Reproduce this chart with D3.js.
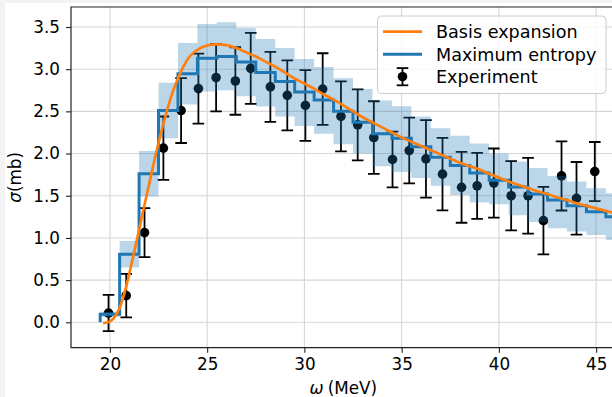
<!DOCTYPE html>
<html>
<head>
<meta charset="utf-8">
<script src="https://cdn.jsdelivr.net/npm/d3@7"></script>
<style>
  body { margin: 0; background: #f3f3f3; }
  svg { display: block; font-family: "DejaVu Sans", sans-serif; }
</style>
</head>
<body>
<div id="chart"></div>
<script>
// Experimental points (omega in MeV, sigma in mb, symmetric error)
const expX = [19.93, 20.84, 21.78, 22.75, 23.66, 24.55, 25.46, 26.45, 27.24, 28.25, 29.12, 30.05, 30.94, 31.88, 32.74,
              33.57, 34.53, 35.39, 36.25, 37.10, 38.08, 38.88, 39.74, 40.63, 41.50, 42.29, 43.22, 43.99, 44.93];
const expY = [0.11, 0.316, 1.063, 2.064, 2.51, 2.77, 2.90, 2.86, 3.01, 2.79, 2.69, 2.57, 2.764, 2.44, 2.34,
              2.19, 1.93, 2.036, 1.937, 1.756, 1.60, 1.617, 1.65, 1.50, 1.50, 1.205, 1.735, 1.47, 1.787];
const expErr = [0.215, 0.257, 0.29, 0.375, 0.385, 0.415, 0.40, 0.40, 0.42, 0.415, 0.415, 0.42, 0.425, 0.415, 0.42,
                0.43, 0.33, 0.39, 0.46, 0.43, 0.42, 0.39, 0.41, 0.41, 0.45, 0.40, 0.41, 0.43, 0.35];

// Maximum entropy histogram: 1 MeV bins centred on integers
const binCenters = d3.range(20, 47);
const meVals = [0.095, 0.807, 1.76, 2.51, 2.945, 3.13, 3.15, 3.085, 2.96, 2.855, 2.73, 2.635, 2.50, 2.37,
                2.234, 2.18, 2.08, 1.957, 1.858, 1.77, 1.685, 1.605, 1.52, 1.45, 1.38, 1.31, 1.25];
const meLow = [0.065, 0.65, 1.49, 2.18, 2.58, 2.735, 2.75, 2.68, 2.558, 2.44, 2.328, 2.234, 2.11, 2.0,
               1.85, 1.78, 1.71, 1.617, 1.51, 1.42, 1.40, 1.27, 1.19, 1.115, 1.075, 1.035, 0.976];
const meHigh = [0.125, 0.965, 2.03, 2.84, 3.31, 3.535, 3.555, 3.487, 3.357, 3.25, 3.12, 3.025, 2.894, 2.764,
                2.63, 2.56, 2.44, 2.30, 2.21, 2.12, 2.0, 1.905, 1.83, 1.735, 1.67, 1.59, 1.53];

// Basis expansion curve, sampled off the figure
const basisX = [19.65, 19.9, 20.2, 20.5, 20.8, 21.1, 21.4, 21.7, 22.0, 22.3, 22.6, 22.9, 23.2, 23.5, 23.8, 24.1,
                24.5, 25.0, 25.5, 26.0, 26.5, 27.0, 27.5, 28.0, 28.5, 29.0, 29.5, 30.0, 30.5, 31.0, 31.5, 32.0,
                32.5, 33.0, 33.5, 34.0, 34.5, 35.0, 35.5, 36.0, 36.5, 37.0, 37.5, 38.0, 38.5, 39.0, 39.5, 40.0,
                40.5, 41.0, 41.5, 42.0, 42.5, 43.0, 43.5, 44.0, 44.5, 45.0, 45.5, 46.0];
const basisY = [-0.01, 0.0, 0.05, 0.17, 0.39, 0.68, 0.99, 1.31, 1.62, 1.93, 2.22, 2.48, 2.71, 2.89, 3.04, 3.15,
                3.23, 3.28, 3.295, 3.285, 3.25, 3.20, 3.15, 3.09, 3.03, 2.96, 2.89, 2.83, 2.77, 2.70, 2.64, 2.57,
                2.50, 2.43, 2.37, 2.31, 2.25, 2.19, 2.14, 2.09, 2.04, 1.99, 1.94, 1.89, 1.85, 1.81, 1.76, 1.715,
                1.67, 1.63, 1.59, 1.55, 1.52, 1.48, 1.45, 1.41, 1.38, 1.35, 1.32, 1.29];

const xTicks = [20, 25, 30, 35, 40, 45];
const yTicks = [0, 0.5, 1.0, 1.5, 2.0, 2.5, 3.0, 3.5];
const legendLabels = ["Basis expansion", "Maximum entropy", "Experiment"];

const width = 612, height = 397;
const plot = { left: 71, top: 7, right: 615.6, bottom: 347.7 };
const orange = "#ff7f0e", blue = "#1f77b4";

const svg = d3.select("#chart").append("svg")
  .attr("width", width)
  .attr("height", height);

svg.append("rect")
  .attr("x", 5).attr("y", 3)
  .attr("width", width).attr("height", height)
  .attr("fill", "#fff");

const x = d3.scaleLinear().domain([18, 46]).range([plot.left, plot.right]);
const y = d3.scaleLinear().domain([-0.301, 3.737]).range([plot.bottom, plot.top]);

svg.append("clipPath").attr("id", "clip")
  .append("rect")
  .attr("x", plot.left).attr("y", plot.top)
  .attr("width", plot.right - plot.left).attr("height", plot.bottom - plot.top);

// grid
const grid = svg.append("g").attr("stroke", "#d6d6d6").attr("stroke-width", 1.1);
xTicks.forEach(t => grid.append("line")
  .attr("x1", x(t)).attr("x2", x(t)).attr("y1", plot.top).attr("y2", plot.bottom));
yTicks.forEach(t => grid.append("line")
  .attr("x1", plot.left).attr("x2", plot.right).attr("y1", y(t)).attr("y2", y(t)));

const body = svg.append("g").attr("clip-path", "url(#clip)");

// experiment with error bars
const exp = expX.map((d, i) => ({ x: d, y: expY[i], e: expErr[i] }));
const eb = body.append("g").attr("stroke", "#000").attr("stroke-width", 1.8);
exp.forEach(d => {
  eb.append("line").attr("x1", x(d.x)).attr("x2", x(d.x)).attr("y1", y(d.y - d.e)).attr("y2", y(d.y + d.e));
  eb.append("line").attr("x1", x(d.x) - 5.8).attr("x2", x(d.x) + 5.8).attr("y1", y(d.y - d.e)).attr("y2", y(d.y - d.e));
  eb.append("line").attr("x1", x(d.x) - 5.8).attr("x2", x(d.x) + 5.8).attr("y1", y(d.y + d.e)).attr("y2", y(d.y + d.e));
});
body.append("g").selectAll("circle")
  .data(exp)
  .join("circle")
  .attr("cx", d => x(d.x))
  .attr("cy", d => y(d.y))
  .attr("r", 4.8)
  .attr("fill", "#000");

// uncertainty band of the maximum entropy result
const bandPts = [];
binCenters.forEach((c, i) => {
  bandPts.push({ x: c - 0.5, lo: meLow[i], hi: meHigh[i] });
  bandPts.push({ x: c + 0.5, lo: meLow[i], hi: meHigh[i] });
});
body.append("path")
  .datum(bandPts)
  .attr("fill", blue)
  .attr("fill-opacity", 0.3)
  .attr("d", d3.area().x(d => x(d.x)).y0(d => y(d.lo)).y1(d => y(d.hi)));

// stairs, baseline at zero
const stairPts = [{ x: binCenters[0] - 0.5, y: 0 }];
binCenters.forEach((c, i) => {
  stairPts.push({ x: c - 0.5, y: meVals[i] });
  stairPts.push({ x: c + 0.5, y: meVals[i] });
});
stairPts.push({ x: binCenters[binCenters.length - 1] + 0.5, y: 0 });
body.append("path")
  .datum(stairPts)
  .attr("fill", "none")
  .attr("stroke", blue)
  .attr("stroke-width", 3)
  .attr("d", d3.line().x(d => x(d.x)).y(d => y(d.y)));

// basis expansion curve
body.append("path")
  .datum(basisX.map((d, i) => [d, basisY[i]]))
  .attr("fill", "none")
  .attr("stroke", orange)
  .attr("stroke-width", 2.7)
  .attr("d", d3.line().x(d => x(d[0])).y(d => y(d[1])).curve(d3.curveMonotoneX));

// axes
const xAxis = svg.append("g")
  .attr("transform", `translate(0,${plot.bottom})`)
  .call(d3.axisBottom(x).tickValues(xTicks).tickSize(5).tickPadding(5).tickFormat(d3.format("d")));
const yAxis = svg.append("g")
  .attr("transform", `translate(${plot.left},0)`)
  .call(d3.axisLeft(y).tickValues(yTicks).tickSize(5).tickPadding(6).tickFormat(d3.format(".1f")));
[xAxis, yAxis].forEach(a => {
  a.select(".domain").remove();
  a.selectAll("line").attr("stroke", "#222").attr("stroke-width", 1.1);
  a.selectAll("text").attr("font-size", "16.8px").attr("fill", "#000")
    .attr("font-family", "DejaVu Sans");
});

// frame (left, top, bottom)
svg.append("path")
  .attr("fill", "none")
  .attr("stroke", "#222")
  .attr("stroke-width", 1.2)
  .attr("d", `M${plot.right},${plot.top}H${plot.left}V${plot.bottom}H${plot.right}`);

// axis labels
const xl = svg.append("text")
  .attr("x", (plot.left + plot.right) / 2)
  .attr("y", 394)
  .attr("text-anchor", "middle")
  .attr("font-size", "16.8px");
xl.append("tspan").attr("font-style", "italic").text("ω");
xl.append("tspan").attr("dx", 4).text("(MeV)");

const yl = svg.append("text")
  .attr("transform", `translate(20.5,${(plot.top + plot.bottom) / 2}) rotate(-90)`)
  .attr("text-anchor", "middle")
  .attr("font-size", "16.8px");
yl.append("tspan").attr("font-style", "italic").text("σ");
yl.append("tspan").text("(mb)");

// legend
const lg = svg.append("g");
lg.append("rect")
  .attr("x", 377.5).attr("y", 16)
  .attr("width", 228.5).attr("height", 77.5)
  .attr("rx", 4)
  .attr("fill", "#fff").attr("fill-opacity", 0.8)
  .attr("stroke", "#ccc").attr("stroke-width", 1);
legendLabels.forEach((lab, i) => {
  const ly = 31.7 + i * 22.5;
  if (i < 2) {
    lg.append("line")
      .attr("x1", 383).attr("x2", 422).attr("y1", ly).attr("y2", ly)
      .attr("stroke", i === 0 ? orange : blue).attr("stroke-width", i === 0 ? 2.7 : 3);
  } else {
    lg.append("line").attr("x1", 402.5).attr("x2", 402.5).attr("y1", ly - 8.6).attr("y2", ly + 8.6)
      .attr("stroke", "#000").attr("stroke-width", 1.8);
    [-8.6, 8.6].forEach(o => lg.append("line")
      .attr("x1", 396.7).attr("x2", 408.3).attr("y1", ly + o).attr("y2", ly + o)
      .attr("stroke", "#000").attr("stroke-width", 1.8));
    lg.append("circle").attr("cx", 402.5).attr("cy", ly).attr("r", 4.8).attr("fill", "#000");
  }
  lg.append("text")
    .attr("x", 436).attr("y", ly)
    .attr("dy", "0.36em")
    .attr("font-size", "17.6px")
    .text(lab);
});
</script>
</body>
</html>
